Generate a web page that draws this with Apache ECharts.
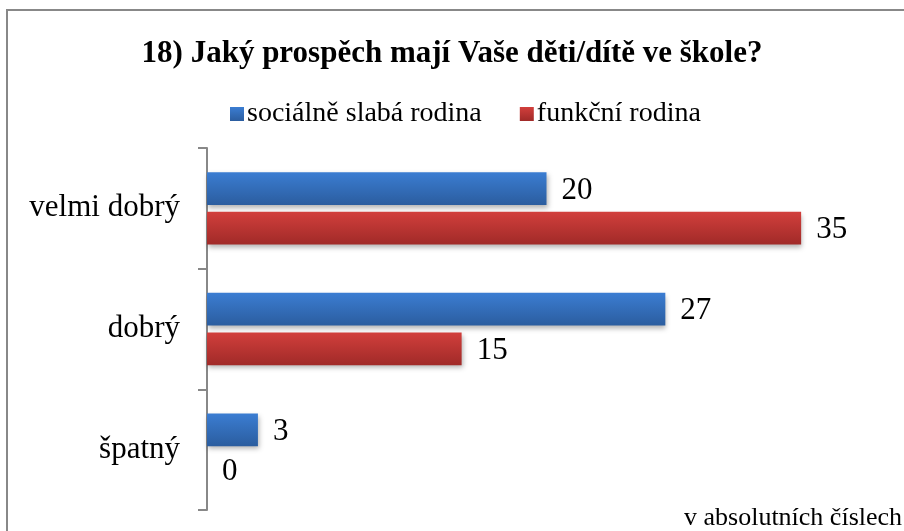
<!DOCTYPE html>
<html>
<head>
<meta charset="utf-8">
<script src="https://cdn.jsdelivr.net/npm/echarts@6/dist/echarts.min.js"></script>
<style>
  html, body { margin: 0; padding: 0; background: #fff; }
  #chart { width: 904px; height: 531px; }
</style>
</head>
<body>
<div id="chart"></div>
<script>
const categories = ['velmi dobrý', 'dobrý', 'špatný'];
const socialneSlaba = [20, 27, 3];
const funkcni = [35, 15, 0];
const seriesNames = ['sociálně slabá rodina', 'funkční rodina'];

const serif = '"Liberation Serif", "Times New Roman", serif';

const grad = (top, bottom) => new echarts.graphic.LinearGradient(0, 0, 0, 1, [
  { offset: 0, color: top },
  { offset: 1, color: bottom }
]);

const barStyle = (top, bottom) => ({
  color: grad(top, bottom),
  shadowColor: 'rgba(0,0,0,0.3)',
  shadowBlur: 5,
  shadowOffsetX: 1,
  shadowOffsetY: 3
});

const label = {
  show: true,
  position: 'right',
  distance: 15,
  offset: [0, 2],
  fontFamily: serif,
  fontSize: 31,
  color: '#000'
};

const chart = echarts.init(document.getElementById('chart'));
chart.setOption({
  animation: false,
  title: {
    text: '18) Jaký prospěch mají Vaše děti/dítě ve škole?',
    left: 'center',
    top: 33,
    textStyle: { fontFamily: serif, fontSize: 31, fontWeight: 'bold', color: '#000' }
  },
  legend: {
    top: 95,
    left: 225,
    itemWidth: 14,
    itemHeight: 14,
    itemGap: 38,
    icon: 'rect',
    textStyle: { fontFamily: serif, fontSize: 28, color: '#000', padding: [0, 0, 0, -2] }
  },
  grid: { left: 207, right: 18, top: 148, bottom: 21 },
  xAxis: {
    type: 'value',
    min: 0,
    max: 40,
    show: false
  },
  yAxis: {
    type: 'category',
    data: categories,
    inverse: true,
    axisLine: { lineStyle: { color: '#888', width: 2 } },
    axisTick: { show: true, length: 9, lineStyle: { color: '#888', width: 2 } },
    axisLabel: { fontFamily: serif, fontSize: 31, color: '#000', margin: 27 }
  },
  series: [
    {
      name: seriesNames[0],
      type: 'bar',
      data: socialneSlaba,
      barCategoryGap: '40%',
      barGap: '21%',
      itemStyle: barStyle('#3b7dd2', '#2b5d9f'),
      label: label
    },
    {
      name: seriesNames[1],
      type: 'bar',
      data: funkcni,
      itemStyle: barStyle('#d23f3c', '#a02a28'),
      label: label
    }
  ],
  graphic: [
    {
      type: 'rect',
      shape: { x: 7, y: 10, width: 1000, height: 1000 },
      style: { fill: 'none', stroke: '#888', lineWidth: 2 },
      silent: true
    },
    {
      type: 'text',
      left: 684,
      top: 505,
      style: { text: 'v absolutních číslech', font: '26px ' + serif, fill: '#000' }
    }
  ]
});
</script>
</body>
</html>
